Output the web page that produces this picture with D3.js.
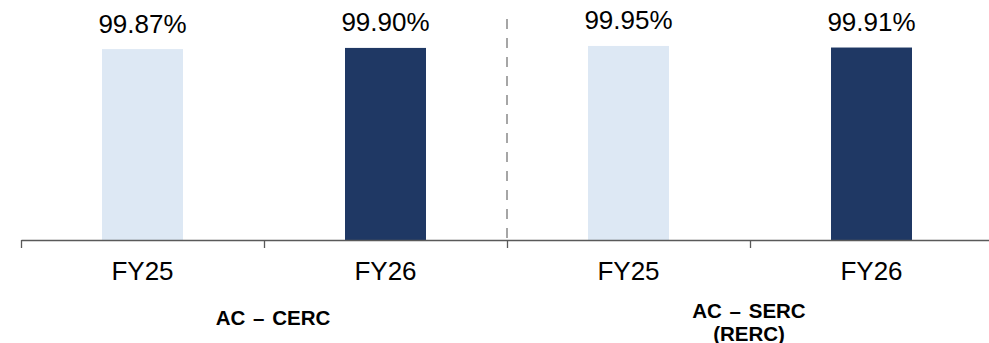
<!DOCTYPE html>
<html>
<head>
<meta charset="utf-8">
<script src="https://cdn.jsdelivr.net/npm/d3@7"></script>
<style>
  html, body { margin: 0; padding: 0; background: #ffffff; }
  svg { display: block; font-family: Arial, "Liberation Sans", sans-serif; }
</style>
</head>
<body>
<svg id="chart" width="989" height="343"></svg>
<script>
// Availability by year for each commission
const categories = ["FY25", "FY26", "FY25", "FY26"];
const values = [99.87, 99.90, 99.95, 99.91];
const barColors = ["#dde8f4", "#1f3864", "#dde8f4", "#1f3864"];
const groups = [["AC – CERC"], ["AC – SERC", "(RERC)"]];
const groupSize = 2;
const yDomain = [95, 100];

const svg = d3.select("#chart");
const left = 21, right = 993, baseY = 240, topY = 44;

const x = d3.scaleBand()
  .domain(d3.range(categories.length))
  .range([left, right])
  .paddingInner(2 / 3)
  .paddingOuter(1 / 3);

const y = d3.scaleLinear().domain(yDomain).range([baseY, topY]);

// boundaries between categories, used for axis ticks
const edge = d3.scaleLinear().domain([0, categories.length]).range([left, right]);

// bars
svg.append("g").selectAll("rect")
  .data(values)
  .join("rect")
  .attr("x", (d, i) => x(i))
  .attr("y", d => y(d))
  .attr("width", x.bandwidth())
  .attr("height", d => baseY - y(d))
  .attr("fill", (d, i) => barColors[i]);

// value labels
svg.append("g").selectAll("text")
  .data(values)
  .join("text")
  .attr("x", (d, i) => x(i) + x.bandwidth() / 2)
  .attr("y", d => y(d) - 16.5)
  .attr("text-anchor", "middle")
  .attr("font-size", 26)
  .attr("fill", "#000")
  .text(d => d.toFixed(2) + "%");

// dashed separator between the two groups
svg.append("line")
  .attr("x1", edge(groupSize)).attr("x2", edge(groupSize))
  .attr("y1", 19).attr("y2", baseY)
  .attr("stroke", "#a6a6a6")
  .attr("stroke-width", 2)
  .attr("stroke-dasharray", "10,9");

// x axis with ticks at category boundaries
const axis = svg.append("g")
  .attr("transform", `translate(0,${baseY})`)
  .call(d3.axisBottom(edge)
    .tickValues(d3.range(categories.length + 1))
    .tickFormat("")
    .tickSize(8)
    .tickSizeOuter(0));
axis.select(".domain").attr("stroke", "#595959").attr("stroke-width", 1.3);
axis.selectAll(".tick line").attr("stroke", "#595959").attr("stroke-width", 1.3);

// category labels
svg.append("g").selectAll("text")
  .data(categories)
  .join("text")
  .attr("x", (d, i) => x(i) + x.bandwidth() / 2)
  .attr("y", 280)
  .attr("text-anchor", "middle")
  .attr("font-size", 26)
  .attr("fill", "#000")
  .text(d => d);

// group labels (multi-line labels as separate text rows)
const groupShift = [9, -1];
const groupBase = [324.5, 317.5];
const lineStep = 23;
groups.forEach((lines, g) => {
  const cx = (edge(g * groupSize) + edge((g + 1) * groupSize)) / 2 + groupShift[g];
  lines.forEach((line, k) => {
    svg.append("text")
      .attr("x", cx)
      .attr("y", groupBase[g] + k * lineStep)
      .attr("text-anchor", "middle")
      .attr("font-size", 20.5)
      .attr("font-weight", "bold")
      .attr("word-spacing", 2)
      .attr("fill", "#000")
      .text(line);
  });
});
</script>
</body>
</html>
